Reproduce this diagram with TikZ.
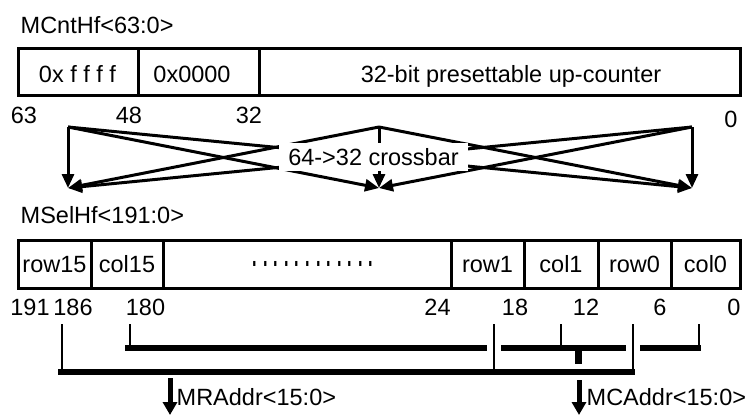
\documentclass[tikz,border=0pt]{standalone}
\usepackage{fontspec}
\setmainfont{Liberation Sans}
\usetikzlibrary{arrows.meta}
\begin{document}
\begin{tikzpicture}[x=1pt,y=-1pt,
  txt/.style={font=\fontsize{23.5}{28}\selectfont, inner sep=0pt, anchor=base},
  cell/.style={draw, line width=3pt, inner sep=0pt, outer sep=0pt, anchor=west,
    font=\fontsize{23.5}{28}\selectfont, text height=17pt, text depth=0pt},
  xbar/.style={line width=3pt, -{Triangle[length=14pt,width=12pt]}},
  tickline/.style={line width=2.5pt},
  bus/.style={line width=6pt},
  outarrow/.style={line width=5pt, -{Triangle[length=13pt,width=14pt]}}]
\useasboundingbox (0,0) rectangle (750,415);

% ---------- MCntHf ----------
\node[txt, anchor=base west] (cnt) at (20.5,33) {MCntHf<63:0>};
\node[cell, minimum width=120pt, minimum height=47pt] (c1) at (18,71.5) {};
\node[cell, minimum width=121pt, minimum height=47pt] (c2) at (138,71.5) {};
\node[cell, minimum width=481pt, minimum height=47pt] (c3) at (259,71.5) {};
\node[txt] (c1t) at (77.5,82) {0x f f f f};
\node[txt] (c2t) at (192,82) {0x0000};
\node[txt] (c3t) at (511,82) {32-bit presettable up-counter};

\node[txt] (n63) at (24,123) {63};
\node[txt] (n48) at (129,123) {48};
\node[txt] (n32) at (249,123) {32};
\node[txt] (n0a) at (731,127) {0};

% ---------- crossbar ----------
\coordinate (s1) at (68,127);
\coordinate (s2) at (379,127);
\coordinate (s3) at (692,127);
\coordinate (d1) at (68,188);
\coordinate (d2) at (379,188);
\coordinate (d3) at (692,188);
\foreach \s in {s1,s2,s3}
  \foreach \d in {d1,d2,d3}
    \draw[xbar] (\s) -- (\d);
\node[fill=white, inner xsep=9pt, inner ysep=5.5pt, text height=17pt, text depth=0pt,
  font=\fontsize{23.5}{28}\selectfont] (xb) at (373.5,156.5) {64->32 crossbar};

% ---------- MSelHf ----------
\node[txt, anchor=base west] (sel) at (20.5,223) {MSelHf<191:0>};
\node[cell, minimum width=73pt, minimum height=48pt] (r15) at (18,264) {row15};
\node[cell, minimum width=72pt, minimum height=48pt] (k15) at (91,264) {col15};
\node[cell, minimum width=288pt, minimum height=48pt] (mid) at (163,264) {};
\node[cell, minimum width=73pt, minimum height=48pt] (r1) at (451,264) {row1};
\node[cell, minimum width=74pt, minimum height=48pt] (k1) at (524,264) {col1};
\node[cell, minimum width=73pt, minimum height=48pt] (r0) at (598,264) {row0};
\node[cell, minimum width=69pt, minimum height=48pt] (k0) at (671,264) {col0};
\node[txt] (dots) at (313,266) {\scalebox{1}[2]{.\kern4pt.\kern4pt.\kern4pt.\kern4pt.\kern4pt.\kern4pt.\kern4pt.\kern4pt.\kern4pt.\kern4pt.\kern4pt.}};

\node[txt] (m191) at (30,315) {191};
\node[txt] (m186) at (73,315) {186};
\node[txt] (m180) at (145.5,315) {180};
\node[txt] (m24) at (437.5,315) {24};
\node[txt] (m18) at (515,315) {18};
\node[txt] (m12) at (586,315) {12};
\node[txt] (m6) at (660,315) {6};
\node[txt] (m0) at (734,315) {0};

% ---------- buses ----------
\coordinate (busA) at (0,348);
\coordinate (busB) at (0,372);
\coordinate (k186) at (62,324);
\coordinate (k180) at (130,324);
\coordinate (k18) at (494,324);
\coordinate (k12) at (561,324);
\coordinate (k6) at (633,324);
\coordinate (kz) at (699,324);
\draw[tickline] (k186) -- (k186 |- busB);
\draw[tickline] (k180) -- (k180 |- busA);
\draw[tickline] (k18) -- (k18 |- busB);
\draw[tickline] (k12) -- (k12 |- busA);
\draw[tickline] (k6) -- (k6 |- busB);
\draw[tickline] (kz) -- (kz |- busA);

\coordinate (a1l) at (125,348);
\coordinate (a1r) at (487,348);
\coordinate (a2l) at (501,348);
\coordinate (a2r) at (626,348);
\coordinate (a3l) at (640,348);
\coordinate (a3r) at (700.5,348);
\coordinate (bl) at (58,372);
\coordinate (br) at (635,372);
\draw[bus] (a1l) -- (a1r);
\draw[bus] (a2l) -- (a2r);
\draw[bus] (a3l) -- (a3r);
\draw[bus] (bl) -- (br);
\coordinate (stubt) at (578,348);
\coordinate (stubb) at (578,364);
\draw[line width=7pt] (stubt) -- (stubb);

% ---------- outputs ----------
\coordinate (ra) at (170,378);
\coordinate (rb) at (170,415);
\coordinate (ca) at (579,380);
\coordinate (cb) at (579,415);
\draw[outarrow] (ra) -- (rb);
\draw[outarrow] (ca) -- (cb);
\node[txt, anchor=base west] (mra) at (176.5,405) {MRAddr<15:0>};
\node[txt, anchor=base west] (mca) at (586.5,405) {MCAddr<15:0>};
\end{tikzpicture}
\end{document}
